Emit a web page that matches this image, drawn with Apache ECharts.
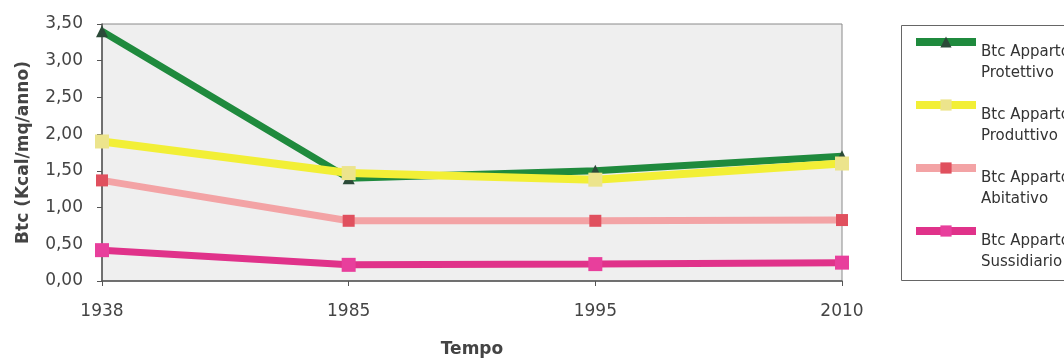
<!DOCTYPE html>
<html>
<head>
<meta charset="utf-8">
<script src="https://cdn.jsdelivr.net/npm/echarts@6/dist/echarts.min.js"></script>
<style>
  html, body { margin: 0; padding: 0; background: #ffffff; }
  #chart { width: 1064px; height: 363px; }
</style>
</head>
<body>
<div id="chart"></div>
<script>
const years = ['1938', '1985', '1995', '2010'];
const seriesNames = ['Btc Apparto\nProtettivo', 'Btc Apparto\nProduttivo', 'Btc Apparto\nAbitativo', 'Btc Apparto\nSussidiario'];
const protettivo = [3.40, 1.40, 1.50, 1.70];
const produttivo = [1.90, 1.47, 1.38, 1.60];
const abitativo = [1.37, 0.82, 0.82, 0.83];
const sussidiario = [0.42, 0.22, 0.23, 0.25];
const yTicks = { min: 0, max: 3.5, interval: 0.5 };
const yTitle = 'Btc (Kcal/mq/anno)';
const xTitle = 'Tempo';

const chart = echarts.init(document.getElementById('chart'), null, { renderer: 'canvas' });
const fontFamily = '"DejaVu Sans", Verdana, sans-serif';

function lineSeries(name, data, lineColor, lineWidth, symbol, symbolSize, symbolColor) {
  return {
    name: name,
    type: 'line',
    data: data,
    symbol: symbol,
    symbolSize: symbolSize,
    showAllSymbol: true,
    lineStyle: { color: lineColor, width: lineWidth },
    itemStyle: { color: symbolColor, borderWidth: 0 },
    emphasis: { disabled: true },
    animation: false
  };
}

chart.setOption({
  animation: false,
  backgroundColor: '#ffffff',
  grid: {
    left: 102, right: 222, top: 24, bottom: 79,
    show: true,
    backgroundColor: '#efefef',
    borderColor: '#8a8a8a',
    borderWidth: 1
  },
  xAxis: {
    type: 'category',
    data: years,
    boundaryGap: false,
    name: xTitle,
    nameLocation: 'middle',
    nameGap: 60,
    nameTextStyle: { fontFamily: fontFamily, fontSize: 17, fontWeight: 'bold', color: '#444' },
    axisLine: { show: true, lineStyle: { color: '#555', width: 1.5 } },
    axisTick: { show: true, alignWithLabel: true, length: 5, lineStyle: { color: '#555' } },
    axisLabel: { fontFamily: fontFamily, fontSize: 17, color: '#444', margin: 22 },
    splitLine: { show: false }
  },
  yAxis: {
    type: 'value',
    min: yTicks.min,
    max: yTicks.max,
    interval: yTicks.interval,
    name: yTitle,
    nameLocation: 'middle',
    nameGap: 70,
    nameRotate: 90,
    nameTextStyle: { fontFamily: fontFamily, fontSize: 17, fontWeight: 'bold', color: '#444' },
    axisLine: { show: true, lineStyle: { color: '#555', width: 1.5 } },
    axisTick: { show: true, length: 5, lineStyle: { color: '#555' } },
    axisLabel: {
      fontFamily: fontFamily, fontSize: 17, color: '#444', margin: 19,
      formatter: function (v) { return v.toFixed(2).replace('.', ','); }
    },
    splitLine: { show: false }
  },
  legend: {
    orient: 'vertical',
    left: 912,
    top: 0,
    padding: 0,
    itemWidth: 60,
    itemHeight: 14,
    itemGap: -21,
    selectedMode: false,
    data: seriesNames,
    lineStyle: { width: 8 },
    formatter: function (name) { return '\n\n' + name; },
    textStyle: {
      fontFamily: fontFamily, fontSize: 15, color: '#333',
      lineHeight: 21
    }
  },
  graphic: [{
    type: 'rect',
    shape: { x: 901.5, y: 25.5, width: 200, height: 255 },
    style: { fill: 'none', stroke: '#666', lineWidth: 1 },
    silent: true
  }],
  series: [
    lineSeries(seriesNames[0], protettivo, '#1f8a3d', 7, 'triangle', 12, '#2b4a38'),
    lineSeries(seriesNames[1], produttivo, '#f2ef36', 8, 'rect', 14, '#ece48c'),
    lineSeries(seriesNames[2], abitativo, '#f3a3a5', 7, 'rect', 12, '#e0505e'),
    lineSeries(seriesNames[3], sussidiario, '#e0328a', 7, 'rect', 14, '#e83f9c')
  ]
});
</script>
</body>
</html>
